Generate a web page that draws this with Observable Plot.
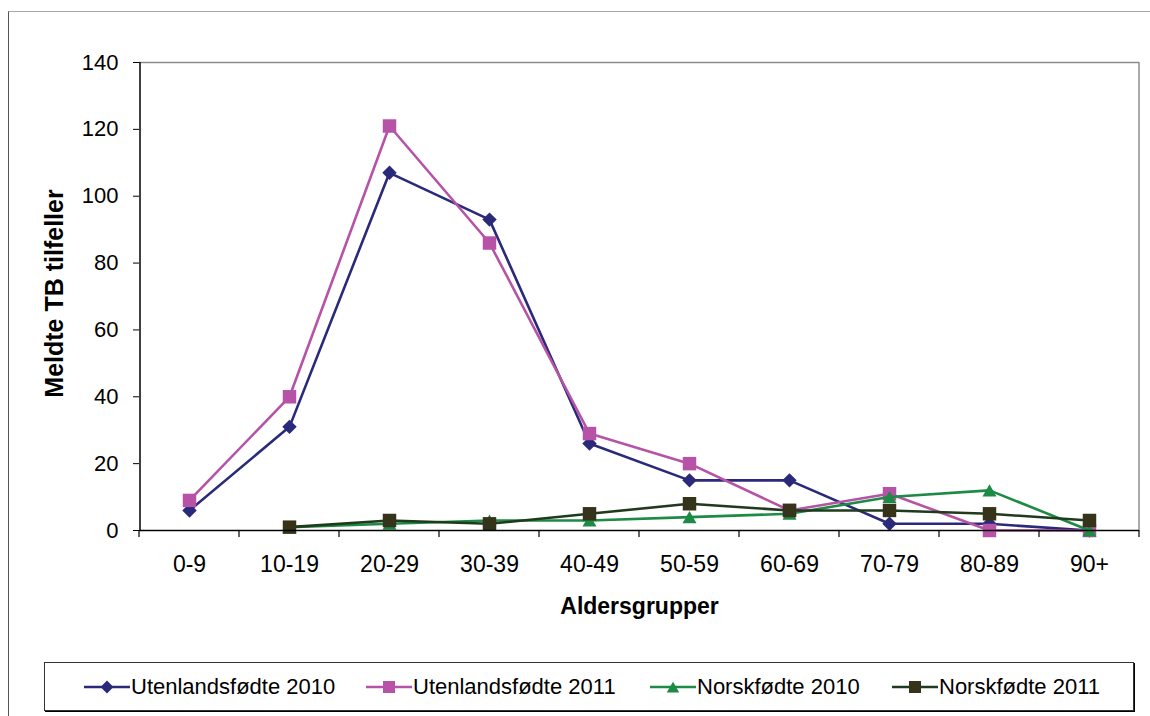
<!DOCTYPE html>
<html lang="no">
<head>
<meta charset="utf-8">
<title>Meldte TB tilfeller etter aldersgruppe</title>
<script src="https://cdn.jsdelivr.net/npm/d3@7"></script>
<script src="https://cdn.jsdelivr.net/npm/@observablehq/plot@0.6"></script>
<style>
  html, body { margin: 0; padding: 0; background: #fff; }
  #wrap { position: relative; width: 1150px; height: 716px; overflow: hidden;
          font-family: "Liberation Sans", Arial, sans-serif; }
  #border { position: absolute; left: 8px; top: 11px; width: 1300px; height: 900px;
            border-top: 1px solid #a8a8a8; border-left: 1px solid #555; }
  #chart { position: absolute; left: 0; top: 0; }
  #legend { position: absolute; left: 44px; top: 662px; width: 1088px; height: 47px;
            border: 1px solid #333; box-shadow: 1px 1px 0 #000; background: #fff; }
  .entry { position: absolute; top: 0; height: 47px; display: flex; align-items: center;
           font-size: 22px; color: #000; white-space: nowrap; }
  .entry svg { margin-right: 1px; }
</style>
</head>
<body>
<div id="wrap">
  <div id="border"></div>
  <div id="chart"></div>
  <div id="legend"></div>
</div>
<script>
// Aldersgrupper (kategorier på x-aksen)
const ageGroups = ["0-9", "10-19", "20-29", "30-39", "40-49", "50-59", "60-69", "70-79", "80-89", "90+"];

// Meldte TB-tilfeller per aldersgruppe
const utenlandsfodte2010 = [6, 31, 107, 93, 26, 15, 15, 2, 2, 0];
const utenlandsfodte2011 = [9, 40, 121, 86, 29, 20, 6, 11, 0, 0];
const norskfodte2010 = [null, 1, 2, 3, 3, 4, 5, 10, 12, 0];
const norskfodte2011 = [null, 1, 3, 2, 5, 8, 6, 6, 5, 3];

const yTicks = [0, 20, 40, 60, 80, 100, 120, 140];

const seriesNames = ["Utenlandsfødte 2010", "Utenlandsfødte 2011", "Norskfødte 2010", "Norskfødte 2011"];
const seriesValues = [utenlandsfodte2010, utenlandsfodte2011, norskfodte2010, norskfodte2011];

// Utseende per serie
const styles = [
  {line: "#2b2a7a", fill: "#2b2a7a", symbol: "diamond2", r: 6.5, dy: 0},
  {line: "#b653a6", fill: "#b653a6", symbol: "square", r: 7.6, dy: 0},
  {line: "#1d8a45", fill: "#1d8a45", symbol: "triangle", r: 5.2, dy: 2},
  {line: "#1f3a1c", fill: "#35341a", symbol: "square", r: 7.6, dy: 0}
];

// Lang tabell: én rad per (serie, aldersgruppe)
const rows = seriesNames.map((name, i) =>
  ageGroups.map((age, j) => ({series: name, age, value: seriesValues[i][j]}))
    .filter(d => d.value != null)
);

const W = 1150, H = 650;
const marks = [
  Plot.ruleY([140], {stroke: "#8c8c8c", strokeWidth: 1.5}),
  Plot.axisY({ticks: yTicks, tickSize: 6, tickPadding: 15, fontSize: 22, label: null}),
  Plot.axisX({tickSize: 0, tickPadding: 25, fontSize: 23, label: null}),
  Plot.text(["Aldersgrupper"], {frameAnchor: "bottom", dy: 83, fontSize: 23, fontWeight: "bold", text: d => d}),
  Plot.text(["Meldte TB tilfeller"], {frameAnchor: "left", dx: -85, dy: -3, rotate: -90, textAnchor: "middle", fontSize: 25, fontWeight: "bold", text: d => d})
];
// Hver serie tegnes som linje med markører, i serierekkefølge
rows.forEach((data, i) => {
  const s = styles[i];
  marks.push(Plot.line(data, {x: "age", y: "value", stroke: s.line, strokeWidth: 2.6}));
  marks.push(Plot.dot(data, {x: "age", y: "value", symbol: () => s.symbol, fill: s.fill, stroke: "none", r: s.r, dy: s.dy}));
});
marks.push(Plot.ruleY([0], {stroke: "#000", strokeWidth: 1.5}));

const plot = Plot.plot({
  width: W,
  height: H,
  marginLeft: 139,
  marginRight: 11,
  marginTop: 62,
  marginBottom: 120,
  style: {fontFamily: "'Liberation Sans', Arial, sans-serif", fontSize: "22px", color: "#000", background: "transparent", overflow: "visible"},
  x: {type: "band", domain: ageGroups, padding: 0, round: false},
  y: {domain: [0, 140]},
  symbol: {type: "identity"},
  marks
});

// Akselinjer og skillestreker mellom aldersgruppene, plassert via skalaene
const xs = plot.scale("x");
const ys = plot.scale("y");
const svg = d3.select(plot);
const y0 = ys.apply(0), yTop = ys.apply(140);
const left = xs.range[0], right = xs.range[1];
const g = svg.append("g");
g.append("line").attr("x1", right).attr("x2", right).attr("y1", yTop).attr("y2", y0)
  .attr("stroke", "#8c8c8c").attr("stroke-width", 1.5);
g.append("line").attr("x1", left + 1).attr("x2", left + 1).attr("y1", yTop).attr("y2", y0)
  .attr("stroke", "#000").attr("stroke-width", 1.5);
const bounds = ageGroups.map(a => xs.apply(a)).concat([xs.apply(ageGroups[ageGroups.length - 1]) + xs.bandwidth]);
bounds.forEach(bx => {
  g.append("line").attr("x1", bx).attr("x2", bx).attr("y1", y0).attr("y2", y0 + 7)
    .attr("stroke", "#000").attr("stroke-width", 1.2);
});
document.getElementById("chart").appendChild(plot);

// Forklaring under diagrammet
const legendX = [39, 321, 605, 847];
const legend = d3.select("#legend");
seriesNames.forEach((name, i) => {
  const s = styles[i];
  const e = legend.append("div").attr("class", "entry").style("left", legendX[i] + "px");
  const sv = e.append("svg").attr("width", 46).attr("height", 20);
  sv.append("line").attr("x1", 0).attr("x2", 46).attr("y1", 10).attr("y2", 10)
    .attr("stroke", s.line).attr("stroke-width", 2.6);
  const sym = {diamond2: d3.symbolDiamond2, square: d3.symbolSquare, triangle: d3.symbolTriangle}[s.symbol];
  sv.append("path").attr("transform", `translate(23,${10 + s.dy})`)
    .attr("d", d3.symbol(sym, Math.PI * s.r * s.r * 0.8)()).attr("fill", s.fill);
  e.append("span").text(name);
});
</script>
</body>
</html>
